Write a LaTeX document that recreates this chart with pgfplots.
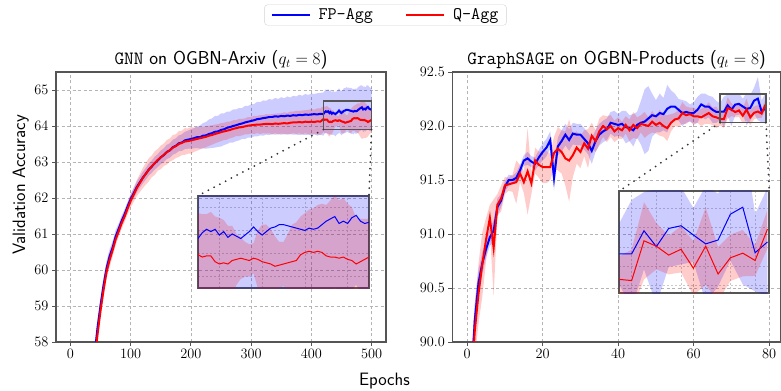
\documentclass[border=0pt]{standalone}
\usepackage{pgfplots}
\pgfplotsset{compat=1.18}
\usepackage{pgfplotstable}
\usepgfplotslibrary{fillbetween}
\definecolor{gridgray}{RGB}{180,180,180}
\definecolor{framegray}{RGB}{85,85,85}

% GNN on OGBN-Arxiv: epoch, FP-Agg mean, FP-Agg std, Q-Agg mean, Q-Agg std
\pgfplotstableread{
e bm bs rm rs
30 55.50 .25 55.30 .20
35 56.70 .25 56.50 .20
40 57.65 .25 57.45 .22
45 58.40 .24 58.22 .20
50 59.02 .22 58.88 .22
55 59.58 .22 59.45 .20
60 60.05 .20 59.95 .18
65 60.38 .20 60.28 .20
70 60.62 .18 60.55 .18
75 60.93 .18 60.85 .16
80 61.14 .15 61.07 .15
85 61.36 .15 61.30 .16
90 61.55 .14 61.49 .15
95 61.77 .13 61.71 .16
100 61.97 .13 61.92 .18
105 62.13 .14 62.09 .20
110 62.30 .15 62.27 .22
115 62.43 .15 62.41 .25
120 62.56 .16 62.55 .28
125 62.67 .16 62.67 .30
130 62.79 .17 62.78 .32
135 62.87 .17 62.88 .30
140 62.97 .18 62.97 .33
145 63.04 .18 63.06 .30
150 63.13 .19 63.13 .33
155 63.19 .19 63.20 .31
160 63.28 .20 63.27 .34
165 63.32 .20 63.33 .32
170 63.41 .21 63.40 .35
175 63.45 .21 63.44 .33
180 63.52 .22 63.50 .36
185 63.54 .23 63.53 .34
190 63.60 .24 63.57 .37
195 63.62 .25 63.58 .35
200 63.64 .27 63.60 .37
205 63.66 .28 63.62 .34
210 63.69 .30 63.64 .33
215 63.69 .32 63.66 .31
220 63.73 .35 63.68 .30
225 63.74 .37 63.70 .29
230 63.78 .40 63.73 .28
235 63.80 .41 63.75 .27
240 63.84 .44 63.78 .26
245 63.85 .43 63.80 .25
250 63.89 .46 63.83 .25
255 63.91 .44 63.85 .24
260 63.95 .45 63.87 .25
265 63.97 .43 63.89 .23
270 64.00 .46 63.92 .24
275 64.02 .44 63.94 .22
280 64.05 .45 63.96 .24
285 64.07 .43 63.97 .23
290 64.10 .46 63.99 .22
295 64.12 .44 64.01 .24
300 64.14 .46 64.02 .23
305 64.16 .45 64.03 .25
310 64.19 .48 64.04 .24
315 64.20 .46 64.04 .26
320 64.22 .49 64.05 .25
325 64.23 .47 64.06 .27
330 64.25 .50 64.06 .26
335 64.25 .48 64.05 .28
340 64.27 .51 64.07 .27
345 64.26 .49 64.06 .29
350 64.28 .52 64.07 .28
355 64.27 .50 64.08 .30
360 64.29 .53 64.07 .29
365 64.28 .51 64.09 .31
370 64.30 .54 64.10 .30
375 64.29 .53 64.10 .32
380 64.31 .56 64.11 .31
385 64.30 .54 64.10 .33
390 64.32 .57 64.12 .32
395 64.31 .55 64.11 .34
400 64.32 .58 64.12 .35
405 64.33 .56 64.11 .34
410 64.32 .59 64.13 .36
415 64.34 .58 64.12 .37
420 64.33 .60 64.19 .36
422 64.38 .59 64.17 .37
424 64.41 .61 64.18 .36
426 64.39 .60 64.18 .38
428 64.41 .62 64.13 .39
430 64.36 .60 64.11 .40
432 64.39 .61 64.12 .37
434 64.34 .59 64.11 .33
436 64.37 .61 64.14 .30
438 64.35 .60 64.15 .22
440 64.33 .62 64.16 .18
442 64.36 .60 64.15 .15
444 64.39 .61 64.14 .14
446 64.43 .62 64.16 .13
448 64.39 .60 64.15 .25
450 64.36 .62 64.13 .32
452 64.39 .61 64.12 .33
454 64.42 .63 64.11 .30
456 64.43 .62 64.09 .26
458 64.45 .63 64.10 .20
460 64.45 .61 64.11 .19
462 64.44 .63 64.12 .25
464 64.43 .62 64.13 .32
466 64.42 .64 64.14 .33
468 64.41 .62 64.19 .33
470 64.40 .63 64.21 .34
472 64.42 .61 64.22 .36
474 64.41 .63 64.21 .38
476 64.42 .62 64.22 .40
478 64.45 .64 64.21 .42
480 64.48 .62 64.18 .44
482 64.50 .63 64.17 .49
484 64.52 .61 64.17 .53
486 64.46 .63 64.16 .50
488 64.48 .62 64.17 .51
490 64.46 .61 64.15 .48
492 64.51 .62 64.14 .46
494 64.53 .60 64.11 .40
496 64.48 .61 64.13 .37
498 64.46 .60 64.15 .35
500 64.47 .60 64.17 .33
}\leftdata

% GraphSAGE on OGBN-Products
\pgfplotstableread{
e bm bs rm rs
0 88.50 .20 88.40 .30
1 89.60 .20 89.50 .30
2 90.20 .15 90.10 .25
3 90.55 .12 90.45 .28
4 90.73 .10 90.72 .30
5 90.86 .08 90.95 .20
6 90.97 .08 91.15 .12
7 91.03 .10 90.87 .45
8 91.25 .08 91.27 .10
9 91.31 .06 91.33 .12
10 91.44 .05 91.45 .08
11 91.50 .05 91.46 .06
12 91.50 .04 91.47 .08
13 91.52 .05 91.48 .20
14 91.59 .05 91.56 .08
15 91.68 .05 91.48 .10
16 91.70 .06 91.58 .40
17 91.67 .05 91.47 .10
18 91.65 .06 91.68 .12
19 91.71 .07 91.64 .12
20 91.76 .08 91.62 .15
21 91.80 .08 91.62 .15
22 91.87 .08 91.62 .12
23 91.52 .12 91.75 .15
24 91.81 .08 91.79 .20
25 91.86 .10 91.76 .20
26 91.92 .10 91.70 .25
27 91.87 .10 91.68 .38
28 91.93 .10 91.73 .20
29 91.92 .10 91.80 .15
30 91.92 .10 91.76 .15
31 91.88 .10 91.84 .12
32 91.84 .10 91.79 .18
33 91.77 .12 91.91 .12
34 91.86 .10 91.86 .10
35 91.92 .10 91.95 .12
36 91.95 .10 92.00 .10
37 91.97 .10 91.97 .12
38 92.03 .10 92.00 .10
39 92.02 .12 91.95 .10
40 92.01 .10 91.98 .10
41 92.02 .12 91.96 .08
42 91.99 .15 92.01 .08
43 91.98 .12 91.96 .10
44 91.96 .15 92.01 .12
45 92.01 .12 91.98 .10
46 92.03 .20 92.02 .08
47 92.04 .30 92.01 .12
48 92.07 .30 92.00 .08
49 92.10 .20 92.04 .10
50 92.09 .15 92.01 .08
51 92.12 .18 92.03 .12
52 92.11 .15 92.00 .10
53 92.16 .22 91.98 .12
54 92.18 .15 92.03 .08
55 92.18 .12 92.06 .06
56 92.15 .10 92.07 .08
57 92.12 .12 92.12 .10
58 92.13 .10 92.10 .08
59 92.12 .08 92.11 .06
60 92.12 .10 92.09 .08
61 92.15 .12 92.09 .06
62 92.20 .10 92.08 .08
63 92.18 .12 92.10 .08
64 92.18 .10 92.12 .10
65 92.15 .12 92.09 .08
66 92.13 .10 92.08 .10
67 92.132 .08 92.066 .06
68 92.132 .14 92.063 .08
69 92.192 .10 92.166 .10
70 92.151 .15 92.152 .06
71 92.198 .10 92.129 .05
72 92.205 .10 92.144 .06
73 92.181 .07 92.095 .07
74 92.158 .15 92.152 .10
75 92.168 .12 92.080 .07
76 92.235 .12 92.122 .06
77 92.253 .20 92.134 .06
78 92.135 .10 92.115 .04
79 92.163 .14 92.196 .05
}\rightdata

\pgfplotsset{
  mainax/.style={
    scale only axis, anchor=south west,
    axis line style={framegray, line width=1.1pt},
    grid=major,
    major grid style={gridgray, dash pattern=on 3bp off 2.5bp, line width=0.6pt},
    tick align=outside, tick pos=left,
    major tick length=4bp,
    tick style={framegray, line width=0.9pt},
    tick label style={font=\fontsize{15}{15}\selectfont},
    axis background/.style={fill=white},
  },
  insetax/.style={
    scale only axis, anchor=south west,
    axis line style={framegray, line width=1.7pt},
    grid=major,
    major grid style={gridgray!70, dash pattern=on 2bp off 2bp, line width=0.5pt},
    xticklabels={}, yticklabels={},
    major tick length=0pt,
    axis background/.style={fill=white},
  },
}

\newcommand{\drawseries}[3]{% table, line width, name prefix
  \addplot[name path=#3bu, draw=none, forget plot] table[x=e, y expr=\thisrow{bm}+\thisrow{bs}]{#1};
  \addplot[name path=#3bl, draw=none, forget plot] table[x=e, y expr=\thisrow{bm}-\thisrow{bs}]{#1};
  \addplot[blue, fill opacity=0.2, draw=none, forget plot] fill between[of=#3bu and #3bl];
  \addplot[name path=#3ru, draw=none, forget plot] table[x=e, y expr=\thisrow{rm}+\thisrow{rs}]{#1};
  \addplot[name path=#3rl, draw=none, forget plot] table[x=e, y expr=\thisrow{rm}-\thisrow{rs}]{#1};
  \addplot[red, fill opacity=0.2, draw=none, forget plot] fill between[of=#3ru and #3rl];
  \addplot[blue, line width=#2] table[x=e, y=bm]{#1};
  \addplot[red, line width=#2] table[x=e, y=rm]{#1};
}

\tikzset{conn/.style={gray!40!black, line width=2bp, line cap=round, dash pattern=on 0bp off 6.5bp}}

\begin{document}
\begin{tikzpicture}

% ---------- left main ----------
\begin{axis}[mainax, name=L, at={(56bp,49bp)}, width=330bp, height=270bp,
  xmin=-24, xmax=524, ymin=58, ymax=65.5,
  xtick={0,100,200,300,400,500}, ytick={58,59,60,61,62,63,64,65},
  legend style={at={(0.9985,1.2111)}, anchor=center, draw=gray!35, rounded corners=3pt,
    fill=white, font=\fontsize{17.7}{20}\ttfamily, legend columns=2,
    /tikz/every odd column/.append style={column sep=6bp},
    /tikz/every even column/.append style={column sep=30bp},
    inner xsep=6bp, inner ysep=2bp},
  legend image code/.code={\draw[#1, line width=2pt] (0bp,0bp) -- (38bp,0bp);},
]
\drawseries{\leftdata}{2pt}{la}
\legend{FP-Agg,Q-Agg}
\draw[framegray, line width=1.4pt] (axis cs:420,63.90) rectangle (axis cs:500,64.70);
\coordinate (L1) at (axis cs:420,63.90);
\coordinate (L2) at (axis cs:500,63.90);
\end{axis}

% ---------- left inset ----------
\begin{axis}[insetax, name=LI, at={(198bp,102.7bp)}, width=171bp, height=92.6bp,
  xmin=420, xmax=500, ymin=63.90, ymax=64.70,
  xtick={430,450,470,490}, ytick={64,64.2,64.4,64.6}]
\drawseries{\leftdata}{1pt}{li}
\end{axis}

\draw[conn] (L1) -- (LI.north west);
\draw[conn] (L2) -- (LI.north east);

% ---------- right main ----------
\begin{axis}[mainax, name=R, at={(452.3bp,49bp)}, width=328bp, height=270bp,
  xmin=-3.95, xmax=82.95, ymin=90, ymax=92.5,
  xtick={0,20,40,60,80}, ytick={90,90.5,91,91.5,92,92.5},
  yticklabel style={/pgf/number format/.cd, fixed, fixed zerofill, precision=1},
]
\drawseries{\rightdata}{2pt}{ra}
\draw[framegray, line width=1.4pt] (axis cs:67,92.03) rectangle (axis cs:79.15,92.295);
\coordinate (R1) at (axis cs:67,92.03);
\coordinate (R2) at (axis cs:79.15,92.03);
\end{axis}

% ---------- right inset ----------
\begin{axis}[insetax, name=RI, at={(619.3bp,97.7bp)}, width=150bp, height=102.3bp,
  xmin=67, xmax=79.15, ymin=92.03, ymax=92.295,
  xtick={68,70,72,74,76,78}, ytick={92.05,92.1,92.15,92.2,92.25}]
\drawseries{\rightdata}{1pt}{ri}
\end{axis}

\draw[conn] (R1) -- (RI.north west);
\draw[conn] (R2) -- (RI.north east);

% ---------- titles and labels ----------
\node[anchor=base, font=\fontsize{18.8}{21}\sffamily, inner sep=0pt] at (221bp,326bp)
  {{\ttfamily GNN} on OGBN-Arxiv ($q_t = 8$)};
\node[anchor=base, font=\fontsize{18.8}{21}\sffamily, inner sep=0pt] at (616.6bp,326bp)
  {{\ttfamily GraphSAGE} on OGBN-Products ($q_t = 8$)};
\node[anchor=base, font=\fontsize{18}{20}\sffamily, inner sep=0pt] at (384.5bp,6bp) {Epochs};
\node[anchor=base, rotate=90, font=\fontsize{18}{20}\sffamily, inner sep=0pt] at (25bp,206bp) {Validation Accuracy};

\pgfresetboundingbox
\useasboundingbox (0,0) rectangle (781bp,391bp);
\end{tikzpicture}
\end{document}
